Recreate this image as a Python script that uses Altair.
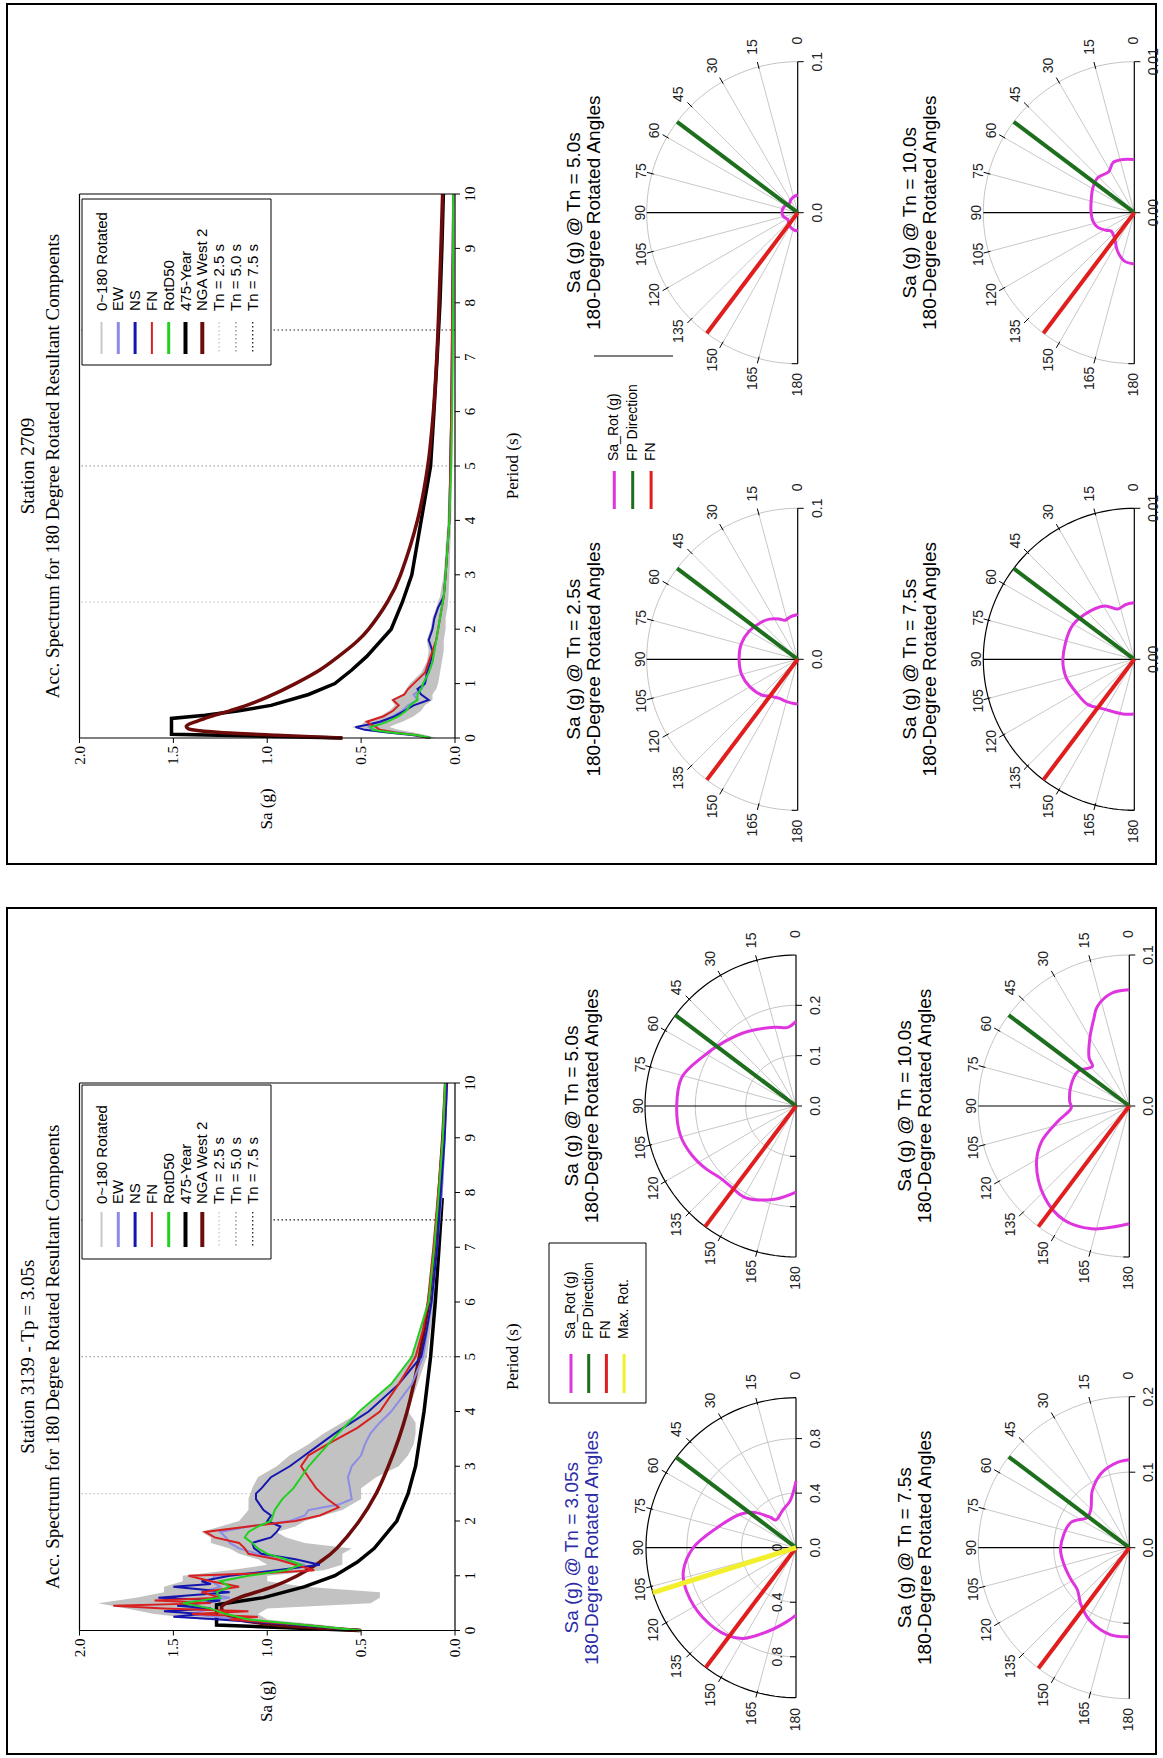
import altair as alt
import pandas as pd

SANS = "Liberation Sans"
SERIF = "Liberation Serif"
W = 1149
H_TOP = 860
H_BOT = 846

# ======================= DATA =======================
# ---- Station 2709 (upper page) response spectra ----
T1 = [0, 0.05, 0.1, 0.15, 0.2, 0.25, 0.3, 0.4, 0.5, 0.6, 0.7, 0.8, 0.9, 1.0, 1.2, 1.4,
      1.6, 1.8, 2.0, 2.2, 2.4, 2.6, 3.0, 3.5, 4.0, 5.0, 6.0, 7.0, 8.0, 9.0, 10.0]
band1_lo = [0.10, 0.15, 0.22, 0.30, 0.35, 0.32, 0.28, 0.22, 0.18, 0.16, 0.12, 0.12, 0.10, 0.09, 0.08, 0.07,
            0.06, 0.06, 0.05, 0.05, 0.04, 0.035, 0.03, 0.025, 0.02, 0.015, 0.012, 0.01, 0.008, 0.007, 0.006]
band1_hi = [0.16, 0.24, 0.40, 0.50, 0.55, 0.50, 0.48, 0.40, 0.35, 0.32, 0.34, 0.28, 0.26, 0.24, 0.18, 0.15,
            0.14, 0.15, 0.13, 0.12, 0.10, 0.08, 0.06, 0.05, 0.04, 0.03, 0.025, 0.02, 0.018, 0.015, 0.012]
ew1 = [0.14, 0.20, 0.30, 0.42, 0.46, 0.44, 0.38, 0.33, 0.28, 0.25, 0.20, 0.22, 0.18, 0.16, 0.14, 0.12,
       0.11, 0.10, 0.09, 0.08, 0.07, 0.06, 0.05, 0.04, 0.03, 0.025, 0.02, 0.017, 0.015, 0.012, 0.01]
ns1 = [0.13, 0.22, 0.36, 0.48, 0.53, 0.46, 0.40, 0.32, 0.27, 0.22, 0.14, 0.18, 0.20, 0.16, 0.15, 0.13,
       0.12, 0.14, 0.12, 0.11, 0.09, 0.06, 0.05, 0.04, 0.03, 0.025, 0.02, 0.017, 0.015, 0.012, 0.01]
fn1 = [0.14, 0.20, 0.32, 0.40, 0.42, 0.45, 0.47, 0.38, 0.33, 0.30, 0.33, 0.27, 0.25, 0.22, 0.16, 0.14,
       0.12, 0.10, 0.09, 0.08, 0.07, 0.06, 0.05, 0.04, 0.03, 0.025, 0.02, 0.017, 0.015, 0.012, 0.01]
rd1 = [0.13, 0.20, 0.34, 0.44, 0.45, 0.40, 0.36, 0.30, 0.26, 0.24, 0.20, 0.20, 0.18, 0.17, 0.14, 0.12,
       0.11, 0.10, 0.09, 0.08, 0.07, 0.06, 0.05, 0.04, 0.03, 0.02, 0.015, 0.012, 0.01, 0.01, 0.01]
y475_1_T = [0, 0.07, 0.36, 0.42, 0.5, 0.6, 0.8, 1.0, 1.25, 1.5, 2.0, 2.5, 3.0, 4.0, 5.0, 6.0, 7.0, 8.0, 9.0, 10.0]
y475_1 = [0.60, 1.51, 1.51, 1.33, 1.15, 0.98, 0.78, 0.64, 0.55, 0.47, 0.34, 0.28, 0.23, 0.18, 0.13, 0.112,
          0.095, 0.08, 0.07, 0.062]
nga1_T = [0, 0.05, 0.1, 0.15, 0.2, 0.25, 0.3, 0.4, 0.5, 0.6, 0.75, 1.0, 1.25, 1.5, 1.75, 2.0, 2.5, 3.0,
          4.0, 5.0, 6.0, 7.0, 8.0, 9.0, 10.0]
nga1 = [0.60, 0.95, 1.25, 1.40, 1.43, 1.42, 1.38, 1.30, 1.20, 1.11, 1.00, 0.85, 0.72, 0.62, 0.53, 0.46,
        0.36, 0.29, 0.20, 0.145, 0.115, 0.097, 0.085, 0.075, 0.066]

# ---- Station 3139 (lower page) response spectra ----
band2_T = [0, 0.1, 0.2, 0.3, 0.4, 0.5, 0.6, 0.7, 0.8, 0.9, 1.0, 1.1, 1.2, 1.3, 1.4, 1.5, 1.6, 1.7, 1.8, 1.9,
           2.0, 2.2, 2.4, 2.6, 2.8, 3.0, 3.2, 3.4, 3.6, 3.8, 4.0, 4.5, 5.0, 6.0, 7.0, 8.0, 9.0, 10.0]
band2_lo = [0.48, 0.70, 1.00, 1.05, 1.00, 0.45, 0.40, 0.40, 0.80, 1.00, 1.00, 0.70, 0.60, 0.60, 0.60, 0.55,
            0.80, 0.90, 0.95, 0.85, 0.80, 0.60, 0.50, 0.50, 0.42, 0.30, 0.25, 0.22, 0.21, 0.21, 0.25, 0.20,
            0.15, 0.11, 0.085, 0.065, 0.05, 0.04]
band2_hi = [0.52, 0.90, 1.35, 1.60, 1.75, 1.90, 1.70, 1.55, 1.55, 1.45, 1.45, 1.20, 1.00, 1.05, 1.15, 1.20,
            1.30, 1.30, 1.35, 1.25, 1.15, 1.10, 1.10, 1.08, 1.05, 0.95, 0.88, 0.78, 0.70, 0.60, 0.50, 0.34,
            0.23, 0.15, 0.12, 0.09, 0.07, 0.055]
ew2_T = [0, 0.1, 0.2, 0.3, 0.4, 0.5, 0.6, 0.7, 0.8, 0.9, 1.0, 1.1, 1.2, 1.3, 1.4, 1.5, 1.6, 1.7, 1.8, 1.9,
         2.0, 2.1, 2.2, 2.3, 2.4, 2.6, 2.8, 3.0, 3.2, 3.4, 3.6, 3.8, 4.0, 4.5, 5.0, 6.0, 7.0, 8.0, 9.0, 10.0]
ew2 = [0.50, 0.80, 1.15, 1.40, 1.30, 1.45, 1.20, 1.35, 1.25, 1.30, 1.28, 0.90, 0.80, 0.95, 1.05, 1.15,
       1.20, 1.22, 1.25, 1.10, 0.88, 0.80, 0.78, 0.62, 0.55, 0.56, 0.57, 0.55, 0.50, 0.48, 0.45, 0.40,
       0.34, 0.23, 0.17, 0.124, 0.095, 0.07, 0.055, 0.042]
ns2_T = [0, 0.1, 0.2, 0.25, 0.3, 0.35, 0.4, 0.45, 0.5, 0.55, 0.6, 0.7, 0.8, 0.85, 0.9, 1.0, 1.1, 1.2, 1.3,
         1.4, 1.5, 1.6, 1.7, 1.8, 1.9, 2.0, 2.1, 2.2, 2.3, 2.4, 2.5, 2.6, 2.8, 3.0, 3.2, 3.4, 3.6, 3.8, 4.0,
         4.5, 5.0, 5.5, 6.0, 7.0, 8.0, 9.0, 10.0]
ns2 = [0.50, 0.85, 1.25, 1.50, 1.35, 1.55, 1.30, 1.48, 1.35, 1.25, 1.58, 1.20, 1.50, 1.30, 1.35, 1.20,
       0.95, 0.72, 0.85, 1.03, 1.07, 1.08, 0.98, 0.95, 0.93, 1.00, 0.98, 1.02, 1.04, 1.06, 1.06, 1.03,
       0.98, 0.88, 0.80, 0.72, 0.64, 0.55, 0.46, 0.30, 0.18, 0.15, 0.125, 0.095, 0.075, 0.055, 0.042]
fn2_T = [0, 0.1, 0.2, 0.25, 0.3, 0.35, 0.4, 0.45, 0.5, 0.55, 0.6, 0.7, 0.8, 0.9, 1.0, 1.05, 1.1, 1.2, 1.3,
         1.4, 1.5, 1.6, 1.7, 1.8, 1.9, 2.0, 2.1, 2.25, 2.4, 2.6, 2.8, 3.0, 3.2, 3.4, 3.7, 4.0, 4.5, 5.0,
         5.5, 6.0, 7.0, 8.0, 9.0, 10.0]
fn2 = [0.50, 0.80, 1.20, 1.05, 1.40, 1.10, 1.55, 1.82, 1.30, 1.60, 1.25, 1.35, 1.15, 1.30, 1.42, 1.00,
       0.75, 0.85, 0.95, 1.10, 1.12, 1.15, 1.28, 1.33, 1.10, 0.85, 0.72, 0.62, 0.68, 0.74, 0.78, 0.82,
       0.78, 0.68, 0.52, 0.40, 0.30, 0.21, 0.17, 0.145, 0.115, 0.09, 0.065, 0.05]
rd2_T = [0, 0.1, 0.2, 0.3, 0.4, 0.5, 0.6, 0.7, 0.8, 0.9, 1.0, 1.1, 1.2, 1.3, 1.4, 1.5, 1.6, 1.7, 1.8, 1.9,
         2.0, 2.2, 2.4, 2.6, 2.8, 3.0, 3.5, 4.0, 4.5, 5.0, 6.0, 7.0, 8.0, 9.0, 10.0]
rd2 = [0.50, 0.80, 1.10, 1.22, 1.30, 1.45, 1.25, 1.27, 1.20, 1.25, 1.10, 0.90, 0.82, 0.90, 1.00, 1.05,
       1.08, 1.12, 1.10, 1.05, 0.98, 0.96, 0.92, 0.86, 0.82, 0.78, 0.65, 0.51, 0.34, 0.23, 0.14, 0.11,
       0.086, 0.065, 0.053]
y475_2_T = [0, 0.1, 0.47, 0.6, 0.8, 1.0, 1.25, 1.5, 2.0, 2.5, 3.0, 4.0, 5.0, 6.0, 7.0, 7.9]
y475_2 = [0.51, 1.27, 1.27, 1.02, 0.80, 0.64, 0.52, 0.43, 0.31, 0.25, 0.21, 0.165, 0.13, 0.105, 0.085, 0.068]
nga2_T = [0, 0.1, 0.2, 0.3, 0.45, 0.6, 0.8, 1.0, 1.25, 1.5, 2.0, 2.5, 3.0, 3.5, 4.0, 4.5, 5.0, 6.0, 7.0,
          8.0, 9.0, 10.0]
nga2 = [0.50, 0.95, 1.15, 1.22, 1.24, 1.15, 0.97, 0.84, 0.72, 0.63, 0.51, 0.42, 0.355, 0.30, 0.255, 0.22,
        0.19, 0.14, 0.107, 0.085, 0.065, 0.05]

Sa_ticks = [0, 0.5, 1.0, 1.5, 2.0]
Sa_tick_labels = ["0.0", "0.5", "1.0", "1.5", "2.0"]
T_ticks = list(range(11))
T_tick_labels = [str(t) for t in T_ticks]

Tn_values = [2.5, 5.0, 7.5]
Tn_colors = ["#c4c4c4", "#8a8a8a", "#222222"]

legend_labels = ["0~180 Rotated", "EW", "NS", "FN", "RotD50", "475-Year", "NGA West 2",
                 "Tn = 2.5 s", "Tn = 5.0 s", "Tn = 7.5 s"]
legend_colors = ["#c8c8c8", "#8c8ce6", "#1515b0", "#d82020", "#22d022", "#000000", "#6e0b0b",
                 "#c4c4c4", "#8a8a8a", "#222222"]
legend_widths = [2, 3, 3, 2, 3, 4, 4, 1.3, 1.3, 1.3]

polar_legend_labels = ["Sa_Rot (g)", "FP Direction", "FN", "Max. Rot."]
MAG, GRN, RED, YEL = "#de35de", "#1d6e1d", "#e01e1e", "#f2f02c"
polar_legend_colors = [MAG, GRN, RED, YEL]

FP_ANGLE = 53.0
FN_ANGLE = 143.0
MAXROT_ANGLE = 107.4

# Sa_Rot(theta) curves, angle in degrees, value in g
p1_50_ang = [0, 15, 30, 40, 55, 75, 90, 105, 125, 140, 155, 170, 180]
p1_50_val = [0.0117, 0.0108, 0.0095, 0.0082, 0.0092, 0.0102, 0.0105, 0.0098, 0.0080, 0.0094, 0.0108, 0.0118, 0.0120]
p1_100_ang = [0, 12, 23, 32, 46, 59, 75, 90, 101, 112, 122, 128, 141, 156, 168, 180]
p1_100_val = [0.00352, 0.0036, 0.0036, 0.0032, 0.00335, 0.0032, 0.00296, 0.00286, 0.0028, 0.0026,
              0.0022, 0.00196, 0.0021, 0.00276, 0.00326, 0.0034]
p1_25_ang = [0, 10, 18, 25, 35, 45, 60, 75, 90, 105, 120, 135, 145, 155, 165, 180]
p1_25_val = [0.0297, 0.0285, 0.0272, 0.0295, 0.0325, 0.0345, 0.0372, 0.0388, 0.0388, 0.0385, 0.0365,
             0.0335, 0.0300, 0.0286, 0.0290, 0.0297]
p1_75_ang = [0, 9, 18, 29, 48, 63, 90, 105, 122, 134, 149, 168, 180]
p1_75_val = [0.00374, 0.00367, 0.0035, 0.00404, 0.00444, 0.00468, 0.00473, 0.00467, 0.0044, 0.0043,
             0.00385, 0.0037, 0.00363]
p2_50_ang = [0, 6, 15, 33, 48, 63, 76, 90, 104, 115, 125, 133, 142, 151, 167, 180]
p2_50_val = [0.168, 0.157, 0.162, 0.1765, 0.191, 0.211, 0.234, 0.237, 0.237, 0.229, 0.218, 0.208, 0.206,
             0.208, 0.19, 0.171]
p2_100_ang = [0, 9, 18, 22, 30, 40, 43, 56, 70, 85, 92, 102, 112, 122, 137, 150, 163, 180]
p2_100_val = [0.077, 0.0756, 0.069, 0.0626, 0.0522, 0.0414, 0.0358, 0.041, 0.041, 0.0397, 0.0385, 0.0483,
              0.0626, 0.0725, 0.0824, 0.087, 0.085, 0.078]
p2_305_ang = [0, 7, 20, 36, 40, 50, 59, 76, 90, 102, 112, 127, 142, 150, 161, 173, 180]
p2_305_val = [0.489, 0.348, 0.29, 0.251, 0.289, 0.403, 0.476, 0.599, 0.753, 0.845, 0.864, 0.854, 0.817,
              0.768, 0.652, 0.546, 0.494]
p2_75_ang = [0, 8, 21, 33, 45, 54, 67, 90, 104, 118, 129, 140, 152, 168, 180]
p2_75_val = [0.1164, 0.114, 0.105, 0.09, 0.072, 0.0684, 0.0846, 0.091, 0.0894, 0.088, 0.0885, 0.0993,
             0.11, 0.118, 0.1178]

SPOKES = [15, 30, 45, 60, 75, 105, 120, 135, 150, 165]
ANGLE_LABELS = list(range(0, 181, 15))


# ======================= HELPERS =======================
def sc(domain, rng):
    return alt.Scale(domain=domain, range=rng, nice=False, zero=False)


SA_X0, SA_X2 = 448.0, 72.5


def spectrum_chart(yT0, yT10, band, series):
    xs = sc([0, 2], [SA_X0, SA_X2])
    ys = sc([0, 10], [yT0, yT10])
    X = lambda f: alt.X(f"{f}:Q", scale=xs, axis=None)
    Y = lambda f: alt.Y(f"{f}:Q", scale=ys, axis=None)
    pxT = (yT0 - yT10) / 10.0          # pixels per second
    pxS = (SA_X0 - SA_X2) / 2.0        # pixels per g
    bT, blo, bhi = band
    band_df = pd.DataFrame({"T": bT, "lo": blo, "hi": bhi})
    layers = [alt.Chart(band_df).mark_area(orient="horizontal", color="#c2c2c2", opacity=1).encode(
        x=X("lo"), x2="hi:Q", y=Y("T"))]
    tn_df = pd.DataFrame({"T": Tn_values, "c": Tn_colors})
    layers.append(alt.Chart(tn_df).transform_calculate(s0="0", s2="2").mark_rule(
        strokeDash=[1.5, 2.5], strokeWidth=1.2).encode(
        x=X("s0"), x2="s2:Q", y=Y("T"), color=alt.Color("c:N", scale=None)))
    for T, S, color, width, interp in series:
        df = pd.DataFrame({"T": T, "Sa": S})
        layers.append(alt.Chart(df).mark_line(color=color, strokeWidth=width, interpolate=interp).encode(
            x=X("Sa"), y=Y("T"), order="T:Q"))
    frame_df = pd.DataFrame({"x0": [0, 2, 0, 0], "x1": [2, 2, 2, 0], "y0": [10, 0, 0, 0], "y1": [10, 10, 0, 10]})
    layers.append(alt.Chart(frame_df).mark_rule(color="black", strokeWidth=1.2).encode(
        x=X("x0"), x2="x1:Q", y=Y("y0"), y2="y1:Q"))
    sa_df = pd.DataFrame({"v": Sa_ticks, "t": Sa_tick_labels})
    layers.append(alt.Chart(sa_df).transform_calculate(y0="0", y1=f"{-5.0 / pxT}").mark_rule(
        color="black", strokeWidth=1).encode(x=X("v"), y=Y("y0"), y2="y1:Q"))
    layers.append(alt.Chart(sa_df).transform_calculate(y=f"{-8.0 / pxT}").mark_text(
        angle=270, align="right", baseline="middle", font=SERIF, fontSize=15, color="black").encode(
        x=X("v"), y=Y("y"), text="t:N"))
    t_df = pd.DataFrame({"v": T_ticks, "t": T_tick_labels})
    layers.append(alt.Chart(t_df).transform_calculate(x0="0", x1=f"{-5.0 / pxS}").mark_rule(
        color="black", strokeWidth=1).encode(x=X("x0"), x2="x1:Q", y=Y("v")))
    layers.append(alt.Chart(t_df).transform_calculate(x=f"{-8.0 / pxS}").mark_text(
        angle=270, align="center", baseline="top", font=SERIF, fontSize=15, color="black").encode(
        x=X("x"), y=Y("v"), text="t:N"))
    return alt.layer(*layers)


def polar_chart(p):
    cx, cy, R, rmax = p["cx"], p["cy"], p["R"], p["rmax"]
    xs = sc([-1, 0], [cx - R, cx])
    ys = sc([-1, 1], [cy + R, cy - R])
    X = lambda f: alt.X(f"{f}:Q", scale=xs, axis=None)
    Y = lambda f: alt.Y(f"{f}:Q", scale=ys, axis=None)
    RAD = "PI/180"
    L = []
    rings = list(p["grid"]) + ([] if p["arc_black"] else [rmax])
    if rings:
        ring_df = pd.DataFrame([{"r": r, "a": a} for r in rings for a in range(0, 181, 2)])
        L.append(alt.Chart(ring_df).transform_calculate(
            x=f"-datum.r/{rmax}*sin(datum.a*{RAD})",
            y=f"datum.r/{rmax}*cos(datum.a*{RAD})").mark_line(
            color="#c4c4c4", strokeWidth=1).encode(x=X("x"), y=Y("y"), detail="r:N", order="a:Q"))
    spk = pd.DataFrame({"a": SPOKES})
    L.append(alt.Chart(spk).transform_calculate(
        x0="0", y0="0", x1=f"-sin(datum.a*{RAD})", y1=f"cos(datum.a*{RAD})").mark_rule(
        color="#c8c8c8", strokeWidth=1).encode(x=X("x0"), y=Y("y0"), x2="x1:Q", y2="y1:Q"))
    if p["arc_black"]:
        arc_df = pd.DataFrame({"a": list(range(0, 181, 2))})
        L.append(alt.Chart(arc_df).transform_calculate(
            x=f"-sin(datum.a*{RAD})", y=f"cos(datum.a*{RAD})").mark_line(
            color="black", strokeWidth=1.2).encode(x=X("x"), y=Y("y"), order="a:Q"))
    k_in, k_out = 1 - 2.0 / R, 1 + 5.0 / R
    L.append(alt.Chart(spk).transform_calculate(
        x0=f"-{k_in}*sin(datum.a*{RAD})", y0=f"{k_in}*cos(datum.a*{RAD})",
        x1=f"-{k_out}*sin(datum.a*{RAD})", y1=f"{k_out}*cos(datum.a*{RAD})").mark_rule(
        color="black", strokeWidth=1).encode(x=X("x0"), y=Y("y0"), x2="x1:Q", y2="y1:Q"))
    ax_df = pd.DataFrame({"x0": [0, 0], "y0": [1, 0], "x1": [0, -1], "y1": [-1, 0]})
    L.append(alt.Chart(ax_df).mark_rule(color="black", strokeWidth=1.2).encode(
        x=X("x0"), y=Y("y0"), x2="x1:Q", y2="y1:Q"))
    up_df = pd.DataFrame({"v": [v for v, _ in p["up"]], "t": [t for _, t in p["up"]]})
    L.append(alt.Chart(up_df).transform_calculate(
        u=f"datum.v/{rmax}", x0="0", x1=f"{6.0 / R}").mark_rule(color="black", strokeWidth=1).encode(
        x=X("x0"), x2="x1:Q", y=Y("u")))
    L.append(alt.Chart(up_df).transform_calculate(
        u=f"datum.v/{rmax}", x=f"{20.0 / R}").mark_text(
        angle=270, font=SANS, fontSize=14, color="#222222").encode(x=X("x"), y=Y("u"), text="t:N"))
    dn_df = pd.DataFrame({"v": p["down"]})
    L.append(alt.Chart(dn_df).transform_calculate(
        u=f"-datum.v/{rmax}", x0="0", x1=f"{-6.0 / R}").mark_rule(color="black", strokeWidth=1).encode(
        x=X("x0"), x2="x1:Q", y=Y("u")))
    if p.get("down_lab"):
        dl_df = pd.DataFrame({"v": [v for v, _ in p["down_lab"]], "t": [t for _, t in p["down_lab"]]})
        L.append(alt.Chart(dl_df).transform_calculate(
            u=f"-datum.v/{rmax}", x=f"{-18.0 / R}").mark_text(
            angle=270, font=SANS, fontSize=14, color="#222222").encode(x=X("x"), y=Y("u"), text="t:N"))
    lab_df = pd.DataFrame({"a": ANGLE_LABELS, "t": [str(a) for a in ANGLE_LABELS]})
    L.append(alt.Chart(lab_df).transform_calculate(
        u=f"(157 + 15*abs(cos(datum.a*{RAD})))/{R}",
        x=f"-datum.u*sin(datum.a*{RAD})", y=f"datum.u*cos(datum.a*{RAD})").mark_text(
        angle=270, font=SANS, fontSize=14, color="#222222").encode(x=X("x"), y=Y("y"), text="t:N"))
    cur_df = pd.DataFrame({"a": p["ang"], "v": p["val"]})
    L.append(alt.Chart(cur_df).transform_calculate(
        x=f"-datum.v/{rmax}*sin(datum.a*{RAD})", y=f"datum.v/{rmax}*cos(datum.a*{RAD})").mark_line(
        color=MAG, strokeWidth=3, interpolate="catmull-rom").encode(x=X("x"), y=Y("y"), order="a:Q"))
    dirs = [(FP_ANGLE, GRN, 4), (FN_ANGLE, RED, 4)]
    if p.get("maxrot"):
        dirs.append((MAXROT_ANGLE, YEL, 5))
    dir_df = pd.DataFrame({"a": [d[0] for d in dirs], "c": [d[1] for d in dirs], "w": [d[2] for d in dirs]})
    L.append(alt.Chart(dir_df).transform_calculate(
        x0="0", y0="0", x1=f"-sin(datum.a*{RAD})", y1=f"cos(datum.a*{RAD})").mark_rule().encode(
        x=X("x0"), y=Y("y0"), x2="x1:Q", y2="y1:Q", color=alt.Color("c:N", scale=None),
        strokeWidth=alt.StrokeWidth("w:Q", scale=None)))
    return alt.layer(*L)


def frame_chart(H, texts, boxes, vlines, hlines):
    xs = sc([0, W], [0, W])
    ys = sc([0, H], [0, H])
    X = lambda f: alt.X(f"{f}:Q", scale=xs, axis=None)
    Y = lambda f: alt.Y(f"{f}:Q", scale=ys, axis=None)
    L = []
    if boxes:
        L.append(alt.Chart(pd.DataFrame(boxes)).mark_rect(fill="white", stroke="black", strokeWidth=1).encode(
            x=X("x"), x2="x2:Q", y=Y("y"), y2="y2:Q"))
    if hlines:
        L.append(alt.Chart(pd.DataFrame(hlines)).mark_rule(color="black", strokeWidth=1).encode(
            x=X("x"), x2="x2:Q", y=Y("y")))
    solid = [v for v in vlines if not v["dash"]]
    dashed = [v for v in vlines if v["dash"]]
    if solid:
        L.append(alt.Chart(pd.DataFrame(solid)).mark_rule().encode(
            x=X("x"), y=Y("y"), y2="y2:Q", color=alt.Color("color:N", scale=None),
            strokeWidth=alt.StrokeWidth("width:Q", scale=None)))
    if dashed:
        L.append(alt.Chart(pd.DataFrame(dashed)).mark_rule(strokeDash=[1.5, 2.5]).encode(
            x=X("x"), y=Y("y"), y2="y2:Q", color=alt.Color("color:N", scale=None),
            strokeWidth=alt.StrokeWidth("width:Q", scale=None)))
    groups = {}
    for t in texts:
        key = (t["font"], t["size"], t["color"], t["align"])
        groups.setdefault(key, []).append({"x": t["x"], "y": t["y"], "text": t["text"]})
    for (font, size, color, align), rows in groups.items():
        L.append(alt.Chart(pd.DataFrame(rows)).mark_text(
            angle=270, font=font, fontSize=size, color=color, align=align, baseline="middle").encode(
            x=X("x"), y=Y("y"), text="text:N"))
    return alt.layer(*L)


def spectrum_annotations(title1, yT0, yT10, box_top, box_bot, text_y, line_y0, line_y1):
    ymid = (yT0 + yT10) / 2
    texts = [
        dict(x=21, y=ymid, text=title1, font=SERIF, size=19, color="black", align="center"),
        dict(x=46, y=ymid, text="Acc. Spectrum for 180 Degree Rotated Resultant Compoents", font=SERIF,
             size=19, color="black", align="center"),
        dict(x=SA_X0 + 58, y=ymid, text="Period (s)", font=SERIF, size=17, color="black", align="center"),
        dict(x=(SA_X0 + SA_X2) / 2, y=yT0 + 71, text="Sa (g)", font=SERIF, size=17, color="black",
             align="center"),
    ]
    boxes = [dict(x=75, x2=264, y=box_top, y2=box_bot)]
    vlines = []
    for i, lab in enumerate(legend_labels):
        lx = 94.5 + i * 16.8
        texts.append(dict(x=lx, y=text_y, text=lab, font=SANS, size=15, color="black", align="left"))
        vlines.append(dict(x=lx, y=line_y0, y2=line_y1, color=legend_colors[i], width=legend_widths[i],
                           dash=i >= 7))
    return texts, boxes, vlines


def polar_titles(p, t1, color):
    return [dict(x=p["cx"] - 224, y=p["cy"], text=t1, font=SANS, size=19, color=color, align="center"),
            dict(x=p["cx"] - 204, y=p["cy"], text="180-Degree Rotated Angles", font=SANS, size=19,
                 color=color, align="center")]


# ======================= TOP PAGE =======================
R0 = 151
top_polars = [
    dict(cx=790.7, cy=208.7, R=R0, rmax=0.1, ang=p1_50_ang, val=p1_50_val, arc_black=False, grid=[],
         up=[(0, "0.0"), (0.1, "0.1")], down=[0.1], t="Sa (g) @ Tn = 5.0s"),
    dict(cx=1127.3, cy=208.7, R=R0, rmax=0.01, ang=p1_100_ang, val=p1_100_val, arc_black=False, grid=[],
         up=[(0, "0.00"), (0.01, "0.01")], down=[0.01], t="Sa (g) @ Tn = 10.0s"),
    dict(cx=790.7, cy=655.3, R=R0, rmax=0.1, ang=p1_25_ang, val=p1_25_val, arc_black=False, grid=[],
         up=[(0, "0.0"), (0.1, "0.1")], down=[0.1], t="Sa (g) @ Tn = 2.5s"),
    dict(cx=1127.3, cy=655.3, R=R0, rmax=0.01, ang=p1_75_ang, val=p1_75_val, arc_black=True, grid=[],
         up=[(0, "0.00"), (0.01, "0.01")], down=[0.01], t="Sa (g) @ Tn = 7.5s"),
]
yT0_top, yT10_top = 734.0, 190.0
spec_top = spectrum_chart(yT0_top, yT10_top, (T1, band1_lo, band1_hi), [
    (y475_1_T, y475_1, "#000000", 3.5, "linear"),
    (nga1_T, nga1, "#6e0b0b", 3.5, "cardinal"),
    (T1, ew1, "#8c8ce6", 2, "linear"),
    (T1, ns1, "#1515b0", 2, "linear"),
    (T1, fn1, "#d82020", 2, "linear"),
    (T1, rd1, "#22d022", 2, "linear"),
])
texts, boxes, vlines = spectrum_annotations("Station 2709", yT0_top, yT10_top, 195, 361, 307, 318, 350)
for p in top_polars:
    texts += polar_titles(p, p["t"], "black")
for i in range(3):
    lx = 607.3 + i * 18.4
    texts.append(dict(x=lx, y=457, text=polar_legend_labels[i], font=SANS, size=14, color="black", align="left"))
    vlines.append(dict(x=lx, y=467, y2=505, color=polar_legend_colors[i], width=3, dash=False))
hlines = [dict(x=587, x2=666, y=352)]
frame_top = frame_chart(H_TOP, texts, boxes, vlines, hlines)

panel_top = alt.layer(spec_top, *[polar_chart(p) for p in top_polars], frame_top).resolve_scale(
    x="independent", y="independent").properties(width=W, height=H_TOP)

# ======================= BOTTOM PAGE =======================
bot_polars = [
    dict(cx=789, cy=198, R=R0, rmax=0.3, ang=p2_50_ang, val=p2_50_val, arc_black=True, grid=[0.1, 0.2],
         up=[(0, "0.0"), (0.1, "0.1"), (0.2, "0.2")], down=[0.1, 0.2], t="Sa (g) @ Tn = 5.0s"),
    dict(cx=1122.3, cy=198, R=R0, rmax=0.1, ang=p2_100_ang, val=p2_100_val, arc_black=False, grid=[],
         up=[(0, "0.0"), (0.1, "0.1")], down=[0.1], t="Sa (g) @ Tn = 10.0s"),
    dict(cx=789, cy=639.7, R=150, rmax=1.1, ang=p2_305_ang, val=p2_305_val, arc_black=True, grid=[0.4, 0.8],
         up=[(0, "0.0"), (0.4, "0.4"), (0.8, "0.8")], down=[0.4, 0.8],
         down_lab=[(0, "0"), (0.4, "0.4"), (0.8, "0.8")], maxrot=True, t="Sa (g) @ Tn = 3.05s"),
    dict(cx=1122.3, cy=639.7, R=R0, rmax=0.2, ang=p2_75_ang, val=p2_75_val, arc_black=False, grid=[0.1],
         up=[(0, "0.0"), (0.1, "0.1"), (0.2, "0.2")], down=[0.1], t="Sa (g) @ Tn = 7.5s"),
]
yT0_bot, yT10_bot = 722.5, 175.0
spec_bot = spectrum_chart(yT0_bot, yT10_bot, (band2_T, band2_lo, band2_hi), [
    (y475_2_T, y475_2, "#000000", 3.5, "linear"),
    (nga2_T, nga2, "#6e0b0b", 3.5, "cardinal"),
    (ew2_T, ew2, "#8c8ce6", 2, "linear"),
    (ns2_T, ns2, "#1515b0", 2, "linear"),
    (fn2_T, fn2, "#d82020", 2, "linear"),
    (rd2_T, rd2, "#22d022", 2, "linear"),
])
texts, boxes, vlines = spectrum_annotations("Station 3139 - Tp = 3.05s", yT0_bot, yT10_bot, 177, 351, 296, 304, 339)
for p in bot_polars:
    texts += polar_titles(p, p["t"], "#2b2ba6" if p.get("maxrot") else "black")
boxes.append(dict(x=542, x2=639, y=335, y2=495))
for i in range(4):
    lx = 564 + i * 17.7
    texts.append(dict(x=lx, y=431, text=polar_legend_labels[i], font=SANS, size=14, color="black", align="left"))
    vlines.append(dict(x=lx, y=446, y2=485, color=polar_legend_colors[i], width=3, dash=False))
frame_bot = frame_chart(H_BOT, texts, boxes, vlines, [])

panel_bot = alt.layer(spec_bot, *[polar_chart(p) for p in bot_polars], frame_bot).resolve_scale(
    x="independent", y="independent").properties(width=W, height=H_BOT)

chart = alt.vconcat(panel_top, panel_bot, spacing=44, bounds="flush").properties(
    padding={"left": 6, "top": 3, "right": 0, "bottom": 0}
).configure(font=SANS, background="white").configure_view(stroke="black", strokeWidth=2)

chart.save("out.html", embed_options={"renderer": "svg", "actions": False})
